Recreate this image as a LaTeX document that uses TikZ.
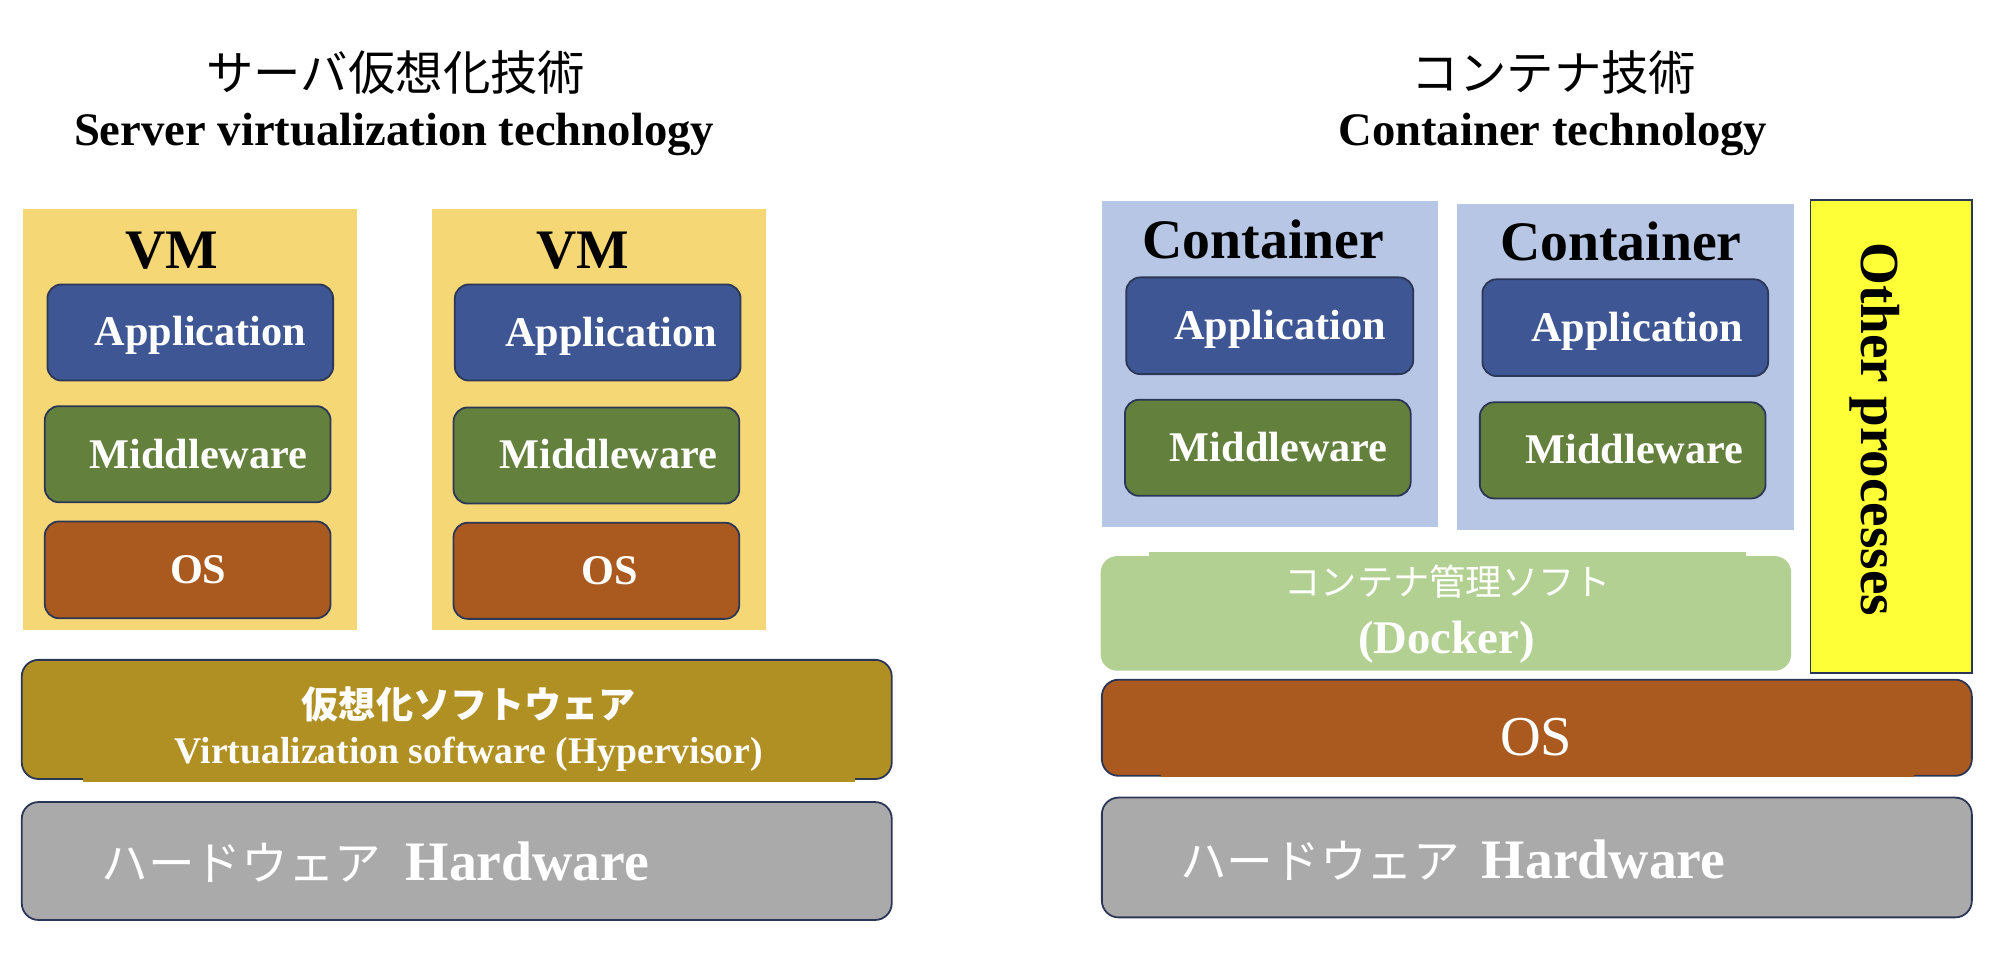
\documentclass[tikz,border=0pt]{standalone}
\usepackage{fontspec}
\setmainfont{Liberation Serif}
\newfontfamily\jp{Noto Sans CJK JP}
\definecolor{vmbg}{HTML}{F5D775}
\definecolor{appc}{HTML}{3E5794}
\definecolor{midc}{HTML}{64803D}
\definecolor{osc}{HTML}{AB5A1F}
\definecolor{hypc}{HTML}{B08F23}
\definecolor{hwc}{HTML}{ABAAAB}
\definecolor{ctc}{HTML}{B6C6E4}
\definecolor{dkc}{HTML}{B3D093}
\definecolor{yelc}{HTML}{FFFF38}
\definecolor{bord}{HTML}{2C3656}
\newcommand{\fsz}[1]{\fontsize{#1}{#1}\selectfont}
\begin{document}
\begin{tikzpicture}[x=1pt,y=-1pt,
  box/.style={draw=bord, line width=1.4pt, rounded corners=11pt, inner sep=0pt},
  bigbox/.style={box, rounded corners=13pt},
  plainbox/.style={draw=none, inner sep=0pt},
  wt/.style={inner sep=0pt, anchor=base, text=white, font=\bfseries\fsz{33}},
  bt/.style={inner sep=0pt, anchor=base, text=black},
  apps/.style={box, fill=appc, minimum width=223pt, minimum height=75pt},
  mids/.style={box, fill=midc, minimum width=223pt, minimum height=75pt},
  oss/.style={box, fill=osc, minimum width=223pt, minimum height=75pt},
]
\useasboundingbox (0,0) rectangle (1568,747);

% titles
\node[bt, font=\jp\fsz{37}] (t1jp) at (309,70.7) {サーバ仮想化技術};
\node[bt, font=\bfseries\fsz{36.4}] (t1en) at (307.5,113.7) {Server virtualization technology};
\node[bt, font=\jp\fsz{37}] (t2jp) at (1213,70.7) {コンテナ技術};
\node[bt, font=\bfseries\fsz{36.4}] (t2en) at (1212,113.7) {Container technology};

% VMs
\node[plainbox, fill=vmbg, minimum width=261pt, minimum height=329pt] (vm1) at (148.5,327.5) {};
\node[plainbox, fill=vmbg, minimum width=261pt, minimum height=329pt] (vm2) at (467.5,327.5) {};
\node[bt, font=\bfseries\fsz{43.5}] (vm1t) at (134,209.4) {VM};
\node[bt, font=\bfseries\fsz{43.5}] (vm2t) at (455,209.4) {VM};

\node[apps] (app1) at (148.5,259.5) {};
\node[mids] (mid1) at (146.5,354.5) {};
\node[oss, minimum height=75.5pt] (os1) at (146.5,444.75) {};
\node[apps] (app2) at (466.5,259.5) {};
\node[mids] (mid2) at (465.5,355.5) {};
\node[oss] (os2) at (465.5,445.5) {};
\node[wt] (app1t) at (156.5,270) {Application};
\node[wt] (mid1t) at (155,365.5) {Middleware};
\node[wt] (os1t) at (154.7,455.3) {OS};
\node[wt] (app2t) at (477,270.5) {Application};
\node[wt] (mid2t) at (475,365.5) {Middleware};
\node[wt] (os2t) at (475.8,456) {OS};

% hypervisor
\node[bigbox, fill=hypc, minimum width=679pt, minimum height=93pt] (hyp) at (356.5,561.5) {};
\node[plainbox, fill=hypc, minimum width=602pt, minimum height=14pt] (hypn) at (366,603) {};
\node[wt, font=\jp\bfseries\fsz{29}] (hypjp) at (366,560.5) {仮想化ソフトウェア};
\node[wt, font=\bfseries\fsz{29.4}] (hypen) at (366,595.6) {Virtualization software (Hypervisor)};

% hardware left
\node[bigbox, fill=hwc, minimum width=679pt, minimum height=92pt] (hwl) at (356.5,672) {};
\node[wt, anchor=base west, font=\fsz{43.5}] (hwlt) at (79,687) {{\jp\fsz{36.4}ハードウェア}\hspace{19pt}\textbf{Hardware}};

% containers
\node[plainbox, fill=ctc, minimum width=262pt, minimum height=254.5pt] (c1) at (991,284.25) {};
\node[plainbox, fill=ctc, minimum width=262.5pt, minimum height=254.5pt] (c2) at (1268.75,286.25) {};
\node[bt, font=\bfseries\fsz{43.5}] (c1t) at (986,201.6) {Container};
\node[bt, font=\bfseries\fsz{43.5}] (c2t) at (1265,203.5) {Container};
\node[apps, minimum width=224pt, minimum height=75.5pt] (capp1) at (991,254.25) {};
\node[mids] (cmid1) at (989.5,349.5) {};
\node[apps, minimum height=75.5pt] (capp2) at (1268.5,255.75) {};
\node[mids] (cmid2) at (1266.5,351.5) {};
\node[wt] (capp1t) at (999,264.6) {Application};
\node[wt] (cmid1t) at (998,360.3) {Middleware};
\node[wt] (capp2t) at (1277.6,266.7) {Application};
\node[wt] (cmid2t) at (1275.7,362) {Middleware};

% other processes
\node[draw=bord, line width=1.4pt, fill=yelc, inner sep=0pt, minimum width=126pt, minimum height=369pt] (oth) at (1476,340.5) {};
\node[bt, rotate=-90, font=\bfseries\fsz{43}] (otht) at (1453,335) {Other processes};

% docker
\node[plainbox, fill=dkc, rounded corners=13pt, minimum width=539pt, minimum height=89.5pt] (dk) at (1128.5,478.75) {};
\node[plainbox, fill=dkc, minimum width=466pt, minimum height=10pt] (dkn) at (1130,435.6) {};
\node[wt, font=\jp\fsz{28.3}] (dkjp) at (1130,464.6) {コンテナ管理ソフト};
\node[wt, font=\bfseries\fsz{36.5}] (dken) at (1129,510) {(Docker)};

% OS right
\node[bigbox, fill=osc, minimum width=679pt, minimum height=75pt] (osr) at (1199.5,568) {};
\node[plainbox, fill=osc, minimum width=588pt, minimum height=10pt] (osrn) at (1200,601.5) {};
\node[wt, font=\fsz{44}] (osrt) at (1199,590) {OS};

% hardware right
\node[bigbox, fill=hwc, minimum width=679pt, minimum height=93.5pt] (hwr) at (1199.5,669.25) {};
\node[wt, anchor=base west, font=\fsz{43.5}] (hwrt) at (921,685.5) {{\jp\fsz{36.4}ハードウェア}\hspace{17pt}\textbf{Hardware}};
\end{tikzpicture}
\end{document}
